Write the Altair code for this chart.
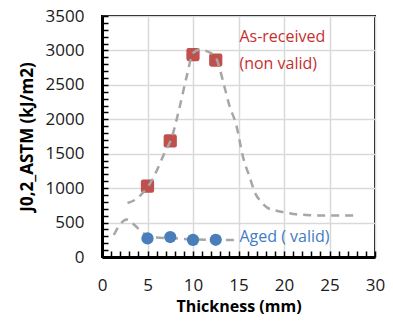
import altair as alt
import pandas as pd

# ---- data ----
thickness = [5, 7.5, 10, 12.5]
as_received = [1030, 1685, 2940, 2860]
aged = [270, 290, 248, 250]

upper_x = [2.8, 3.8, 4.5, 5, 6, 6.9, 7.6, 8.5, 9.3, 10, 10.7, 11.5, 12.5, 13, 13.5, 14,
           14.75, 15.5, 16.2, 16.9, 17.5, 18.2, 19.3, 20.2, 21.3, 22.2, 24, 28]
upper_y = [785, 845, 935, 1010, 1250, 1520, 1710, 2160, 2620, 2960, 3010, 2990, 2900, 2700,
           2450, 2200, 1920, 1450, 1170, 910, 800, 714, 668, 648, 620, 612, 602, 602]

lower_x = [1.3, 2.0, 2.7, 3.6, 4.35, 5, 6, 7.5, 10, 12.5, 15]
lower_y = [320, 475, 545, 460, 365, 310, 282, 275, 255, 248, 248]

red_labels = ["As-received", "(non valid)"]
red_label_x = [15.1, 15.1]
red_label_y = [3190, 2800]
blue_labels = ["Aged ( valid)"]
blue_label_x = [15.1]
blue_label_y = [285]

x_major = [0, 5, 10, 15, 20, 25, 30]
y_major = [0, 500, 1000, 1500, 2000, 2500, 3000, 3500]
x_minor = list(range(0, 31))
y_minor = list(range(0, 3501, 100))

FONT = "Open Sans"
W, H = 273, 241

pts = pd.DataFrame({"t": thickness, "ar": as_received, "ag": aged})
up = pd.DataFrame({"t": upper_x, "j": upper_y})
lo = pd.DataFrame({"t": lower_x, "j": lower_y})
rl = pd.DataFrame({"t": red_label_x, "j": red_label_y, "txt": red_labels})
bl = pd.DataFrame({"t": blue_label_x, "j": blue_label_y, "txt": blue_labels})

xs = alt.Scale(domain=[0, 30], nice=False, zero=False)
ys = alt.Scale(domain=[0, 3500], nice=False, zero=False)

x_axis_main = alt.Axis(
    values=x_major, title="Thickness (mm)", grid=True, ticks=False, labelFlush=False,
    labelPadding=20, titlePadding=5, titleFontSize=16, format="d")
y_axis_main = alt.Axis(
    values=y_major, title="J0,2_ASTM (kJ/m2)", grid=True, ticks=False, labelFlush=False,
    labelPadding=18, titlePadding=9, format="d")

# minor tick axes placed on the opposite side and shifted onto the frame
x_axis_minor = alt.Axis(
    orient="top", offset=-H, values=x_minor, labels=False, domain=False,
    grid=False, ticks=True, tickSize=6, tickWidth=1.5, tickColor="#000", title=None)
y_axis_minor = alt.Axis(
    orient="right", offset=-W, values=y_minor, labels=False, domain=False,
    grid=False, ticks=True, tickSize=6, tickWidth=1.5, tickColor="#000", title=None)

upper_line = alt.Chart(up).mark_line(
    color="#A6A6A6", strokeWidth=2.5, strokeDash=[8, 6], interpolate="monotone"
).encode(x=alt.X("t:Q", scale=xs, axis=x_axis_minor),
         y=alt.Y("j:Q", scale=ys, axis=y_axis_minor))

lower_line = alt.Chart(lo).mark_line(
    color="#A6A6A6", strokeWidth=2.5, strokeDash=[8, 6], interpolate="monotone"
).encode(x=alt.X("t:Q", scale=xs, axis=None), y=alt.Y("j:Q", scale=ys, axis=None))

rounded_square = ("M -0.65 -1 L 0.65 -1 Q 1 -1 1 -0.65 L 1 0.65 Q 1 1 0.65 1 "
                  "L -0.65 1 Q -1 1 -1 0.65 L -1 -0.65 Q -1 -1 -0.65 -1 Z")

red_pts = alt.Chart(pts).mark_point(
    shape=rounded_square, filled=True, color="#C0504D", opacity=1, size=175
).encode(x=alt.X("t:Q", scale=xs, axis=x_axis_main),
         y=alt.Y("ar:Q", scale=ys, axis=y_axis_main))

blue_pts = alt.Chart(pts).mark_circle(
    color="#4A7EBB", opacity=1, size=150
).encode(x=alt.X("t:Q", scale=xs, axis=None), y=alt.Y("ag:Q", scale=ys, axis=None))

red_txt = alt.Chart(rl).mark_text(
    align="left", baseline="middle", font=FONT, fontSize=16, color="#C62F2F"
).encode(x=alt.X("t:Q", scale=xs, axis=None), y=alt.Y("j:Q", scale=ys, axis=None),
         text="txt:N")

blue_txt = alt.Chart(bl).mark_text(
    align="left", baseline="middle", font=FONT, fontSize=16, color="#3F7CC4"
).encode(x=alt.X("t:Q", scale=xs, axis=None), y=alt.Y("j:Q", scale=ys, axis=None),
         text="txt:N")

chart = alt.layer(
    red_pts, upper_line, lower_line, blue_pts, red_txt, blue_txt
).resolve_axis(
    x="independent", y="independent"
).properties(
    width=W, height=H,
    autosize=alt.AutoSizeParams(type="none"),
    padding={"left": 94, "top": 8, "right": 10, "bottom": 59},
).configure_view(
    stroke="#000", strokeWidth=2
).configure_axis(
    labelFont=FONT, titleFont=FONT, labelFontSize=17, titleFontSize=17,
    labelColor="#1a1a1a", titleColor="#000", titleFontWeight="bold",
    gridColor="#D9D9D9", gridWidth=1.5, domainColor="#000", domainWidth=3,
)

chart.save("out.html", embed_options={"renderer": "svg", "actions": False})
